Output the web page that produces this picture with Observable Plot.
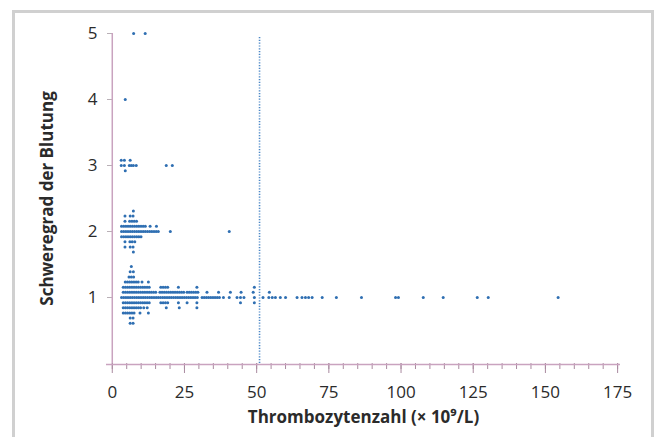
<!DOCTYPE html>
<html>
<head>
<meta charset="utf-8">
<script src="https://cdn.jsdelivr.net/npm/d3@7"></script>
<script src="https://cdn.jsdelivr.net/npm/@observablehq/plot@0.6"></script>
<style>
  body { margin: 0; background: #fff; }
  #wrap { position: relative; width: 657px; height: 437px; overflow: hidden; background: #fff; }
  #frame { position: absolute; left: 12px; top: 10px; width: 642px; height: 470px; border: 3px solid #d0d0d0; box-sizing: border-box; }
  #chart { position: absolute; left: 0; top: 0; }
</style>
</head>
<body>
<div id="wrap"><div id="frame"></div><div id="chart"></div></div>
<script>
// Severity levels (Schweregrad) and rows of dots: [row offset, platelet counts]
const rowStep = 0.078; // vertical spacing of stacked dots, in severity units
const grad5 = [[0, [7.4, 11.4]]];
const grad4 = [[0, [4.5]]];
const grad3 = [
  [1, [3.1, 4.2, 6.2]],
  [0, [3.1, 4.2, 5.9, 6.6, 7.3, 8.3, 18.7, 20.8]],
  [-1, [4.5]]
];
const grad2 = [
  [4, [7.3]],
  [3, [4.4, 6.2, 7.2]],
  [2, [4.4, 6.0, 6.8, 7.6, 8.4]],
  [1, [3.2, 3.95, 4.7, 5.45, 6.2, 6.95, 7.7, 8.45, 9.2, 9.95, 10.7, 11.45, 13.1, 15.3]],
  [0, [3.2, 3.95, 4.7, 5.45, 6.2, 6.95, 7.7, 8.45, 9.2, 9.95, 10.7, 11.45, 12.2, 12.95, 13.7, 14.45, 15.2, 15.95, 20.1, 40.5]],
  [-1, [3.2, 3.95, 4.7, 5.45, 6.2, 6.95, 7.7, 8.45, 9.2, 9.95]],
  [-2, [4.4, 6.1, 6.9, 7.8]],
  [-3, [4.4, 6.2, 7.2]],
  [-4, [7.3]]
];
const grad1 = [
  [6, [6.6]],
  [5, [6.2, 7.3]],
  [4, [5.8, 6.6, 7.4]],
  [3, [4.5, 5.25, 6.0, 6.75, 7.5, 8.25, 9.0, 10.3, 12.5]],
  [2, [3.8, 4.55, 5.3, 6.05, 6.8, 7.55, 8.3, 9.05, 9.8, 10.55, 11.3, 12.05, 12.8, 16.8, 17.6, 18.4, 19.2, 22.9, 29.3, 49.2]],
  [1, [3.8, 4.55, 5.3, 6.05, 6.8, 7.55, 8.3, 9.05, 9.8, 10.55, 11.3, 12.05, 12.8, 13.55, 14.3, 15.05,
       16.5, 17.25, 18.0, 18.75, 19.5, 20.25, 21.0, 21.75, 22.5, 23.25, 24.0, 24.75,
       25.9, 26.65, 27.4, 28.15, 28.9, 29.65, 32.8, 36.8, 40.9, 44.6, 48.8, 54.4]],
  [0, [3.2, 3.95, 4.7, 5.45, 6.2, 6.95, 7.7, 8.45, 9.2, 9.95, 10.7, 11.45, 12.2, 12.95, 13.7, 14.45, 15.2, 15.95,
       16.7, 17.45, 18.2, 18.95, 19.7, 20.45, 21.2, 21.95, 22.7, 23.45, 24.2, 24.95, 25.7, 26.45, 27.2, 27.95, 28.7, 29.45,
       31.1, 31.85, 32.6, 33.35, 34.1, 34.85, 35.6, 36.35, 37.1, 38.5, 40.5, 43.2, 44.4, 45.6, 49.2, 52.2,
       54.2, 55.4, 56.5, 58.2, 60.0, 64.0, 65.7, 66.9, 68.0, 69.2, 72.7, 77.6, 86.3, 98.1, 99.1,
       107.7, 114.6, 126.4, 130.2, 154.4]],
  [-1, [3.8, 4.55, 5.3, 6.05, 6.8, 7.55, 8.3, 9.05, 9.8, 10.55, 11.3, 12.05, 12.8, 16.8, 17.6, 18.4, 19.2, 22.9, 25.9, 29.3, 44.4, 49.2]],
  [-2, [3.8, 4.55, 5.3, 6.05, 6.8, 7.55, 8.3, 9.05, 9.8, 10.9, 12.1, 18.7, 23.2, 29.3]],
  [-3, [3.8, 4.55, 5.3, 6.05, 6.8, 7.55, 9.6, 12.5]],
  [-4, [6.2, 7.2]],
  [-5, [6.2, 7.2]]
];
const levels = [1, 2, 3, 4, 5];
const levelRows = [grad1, grad2, grad3, grad4, grad5];
const threshold = 51;
const xMajorTicks = [0, 25, 50, 75, 100, 125, 150, 175];
const xMinorTicks = d3.range(0, 176, 5);
const xTitle = "Thrombozytenzahl (× 10⁹/L)";
const yTitle = "Schweregrad der Blutung";

const points = [];
levels.forEach((lv, i) => {
  for (const [k, xs] of levelRows[i]) for (const x of xs) points.push({x, y: lv + k * rowStep});
});

const axisColor = "#c9a3bf";
const tickColor = "#a98a9f";
const textColor = "#2b2b2b";
const font = "Open Sans, sans-serif";

const plot = Plot.plot({
  width: 657,
  height: 437,
  marginLeft: 106,
  marginRight: 37,
  marginTop: 33,
  marginBottom: 74,
  style: {fontFamily: font, background: "transparent", color: textColor, overflow: "visible"},
  x: {domain: [-2, 176]},
  y: {domain: [0, 5]},
  marks: [
    Plot.axisX(xMinorTicks, {tickSize: 6, tickFormat: () => "", stroke: tickColor, label: null}),
    Plot.axisX(xMajorTicks, {tickSize: 10, tickPadding: 12, fontSize: 17, stroke: tickColor, fill: textColor, label: null}),
    Plot.axisY(levels, {tickSize: 5, tickPadding: 10, dx: 6, fontSize: 17, tickFormat: "d", stroke: "#b9b0b6", fill: textColor, label: null}),
    Plot.ruleX([0], {stroke: axisColor, strokeWidth: 1.5}),
    Plot.ruleY([0], {stroke: axisColor, strokeWidth: 1.5, dy: 1}),
    Plot.ruleX([threshold], {y1: 0, y2: 4.95, stroke: "#4a86c5", strokeWidth: 1.6, strokeDasharray: "1.2,1.6"}),
    Plot.dot(points, {x: "x", y: "y", r: 1.5, fill: "#2f6fb2", stroke: "none"}),
    Plot.text([xTitle], {frameAnchor: "bottom", dy: 54, fontSize: 17, fontWeight: "bold", fill: textColor, lineAnchor: "middle", textAnchor: "middle"}),
    Plot.text([yTitle], {frameAnchor: "left", dx: -59, rotate: -90, fontSize: 17, fontWeight: "bold", fill: textColor, lineAnchor: "middle", textAnchor: "middle"})
  ]
});
document.getElementById("chart").appendChild(plot);
</script>
</body>
</html>
